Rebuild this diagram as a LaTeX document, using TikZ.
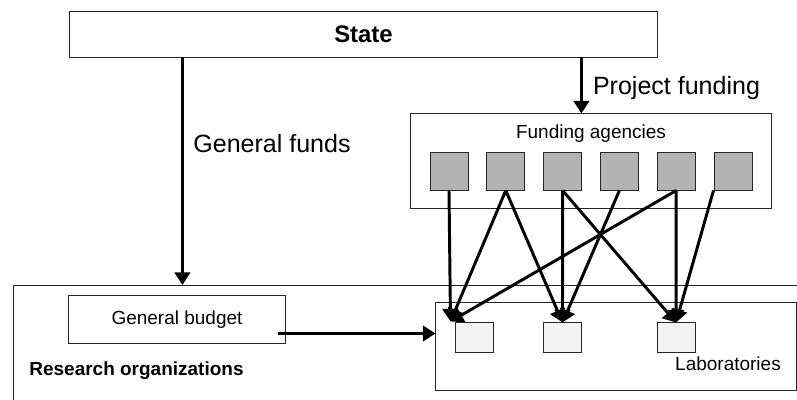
\documentclass[tikz,border=0pt]{standalone}
\usepackage{fontspec}
\setmainfont{Liberation Sans}
\usetikzlibrary{arrows.meta, positioning, calc}
\definecolor{AgencyGray}{HTML}{B3B3B3}
\definecolor{LabGray}{HTML}{F2F2F2}

\tikzset{
    box/.style={draw=black!85, line width=0.7pt, inner sep=0pt},
    flow/.style={-{Triangle[length=9pt, width=11pt]}, line width=2.1pt},
    bigtext/.style={font=\fontsize{17.8}{21}\selectfont},
    smalltext/.style={font=\fontsize{13.5}{16}\selectfont},
}

\begin{document}
\begin{tikzpicture}[x=0.025cm, y=0.025cm]
    \clip (0,0) rectangle (797,400);

    % Research organizations (runs off the page)
    \node[box, anchor=north west, minimum width=20cm, minimum height=4cm] (research) at (13,115) {};
    \node[smalltext, font=\bfseries\fontsize{13.5}{16}\selectfont, anchor=base] (reslabel) at (136.5,24) {Research organizations};

    % State
    \node[box, minimum width=14.675cm, minimum height=1.125cm, font=\bfseries\fontsize{17}{20}\selectfont] (state) at (363.5,365.5) {State};

    % Funding agencies
    \node[box, minimum width=9cm, minimum height=2.35cm] (agencies) at (591,239) {};
    \node[smalltext, anchor=base] (agtitle) at (591,261) {Funding agencies};
    \foreach \i in {1,...,6}
        \node[box, fill=AgencyGray, minimum width=0.95cm, minimum height=0.925cm] (ag\i) at ({449+56.8*(\i-1)},228.5) {};

    % Laboratories
    \node[box, minimum width=9cm, minimum height=2.175cm] (labs) at (616,53.5) {};
    \node[smalltext, anchor=base] (labtitle) at (728,29) {Laboratories};
    \foreach \x [count=\i] in {474, 562.5, 676}
        \node[box, fill=LabGray, minimum width=0.95cm, minimum height=0.725cm] (lab\i) at (\x,62.5) {};
    \coordinate (lab1in) at ($(lab1.north west)+(-4,1)$);

    % General budget
    \node[box, smalltext, minimum width=5.4cm, minimum height=1.175cm] (budget) at (177,80.5) {General budget};

    % General funds
    \coordinate (gf) at ($(state.south west)+(113,0)$);
    \draw[flow] (gf) -- (gf |- research.north);
    \node[bigtext, anchor=base] (gflabel) at (272,247) {General funds};

    % Project funding
    \coordinate (pf) at ($(state.south west)+(512,0)$);
    \draw[flow] (pf) -- (pf |- agencies.north);
    \node[bigtext, anchor=base] (pflabel) at (676.5,305) {Project funding};

    % Budget to laboratories
    \coordinate (gb) at ($(budget.south east)+(-8,10)$);
    \draw[flow] (gb) -- (gb -| labs.west);

    % Agencies to laboratories
    \foreach \a in {1, 2, 5}
        \draw[flow] (ag\a.south) -- (lab1in);
    \foreach \a/\b in {2/2, 3/2, 4/2, 3/3, 5/3}
        \draw[flow] (ag\a.south) -- (lab\b.north);
    \draw[flow] (ag6.south west) -- (lab3.north);

\end{tikzpicture}
\end{document}
